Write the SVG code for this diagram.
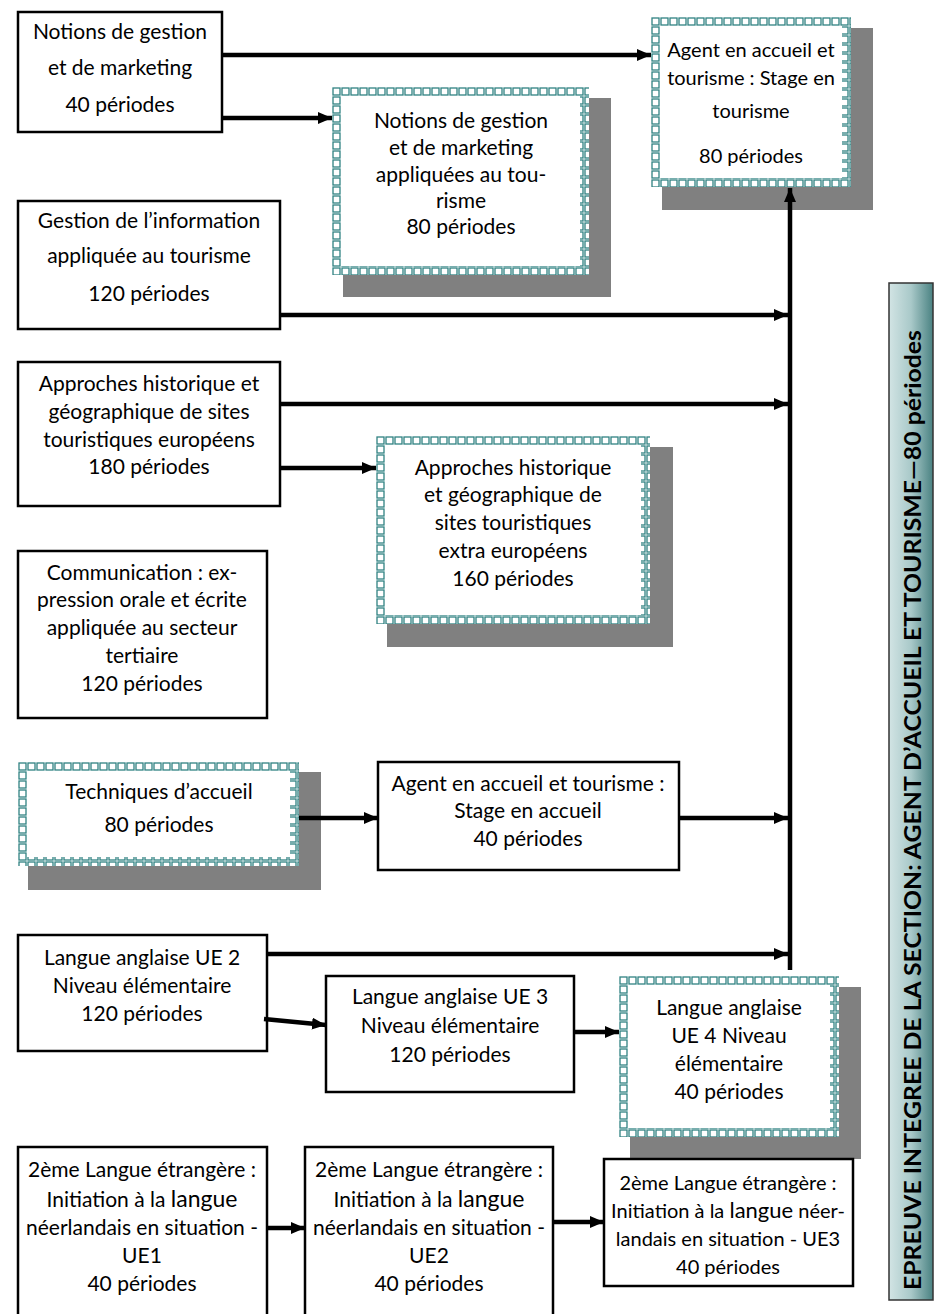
<svg xmlns="http://www.w3.org/2000/svg" width="937" height="1314" viewBox="0 0 937 1314">
<style>
.box{fill:#fff;stroke:#000;stroke-width:2.5}
.shadow{fill:#808080}
.inner{fill:#fff}
.frame{fill:none;stroke-width:9}
.t{font-family:Lato,"Noto Sans","DejaVu Sans",sans-serif;font-size:21px;text-anchor:middle;fill:#000}
.sm{font-size:20px}
.big{font-size:23px}
.conn{stroke:#000;stroke-width:4.5;fill:none}
.bar{font-family:Lato,"Noto Sans","DejaVu Sans",sans-serif;font-size:22px;font-weight:bold;text-anchor:middle;fill:#000}
</style>
<defs>
<marker id="ah" viewBox="0 0 14 12" refX="14" refY="6" markerWidth="14" markerHeight="12" markerUnits="userSpaceOnUse" orient="auto">
<path d="M0,0 L14,6 L0,12 z" fill="#000"/>
</marker>
<pattern id="sq" width="9" height="9" patternUnits="userSpaceOnUse">
<rect x="1" y="1" width="7" height="7" fill="#fff" stroke="#2f8282" stroke-width="1.3"/>
</pattern>
<pattern id="sqN2" href="#sq" x="332" y="87"/>
<pattern id="sqAG" href="#sq" x="651" y="17"/>
<pattern id="sqAX" href="#sq" x="376" y="436"/>
<pattern id="sqTA" href="#sq" x="18" y="762"/>
<pattern id="sqU4" href="#sq" x="619" y="976"/>
<linearGradient id="barg" x1="0" y1="0" x2="1" y2="0">
<stop offset="0" stop-color="#d2e4e4"/>
<stop offset="0.5" stop-color="#a9c9c9"/>
<stop offset="1" stop-color="#4a8282"/>
</linearGradient>
</defs>

<g id="gestion-marketing">
<rect class="box" x="18" y="12" width="204" height="120"/>
<text class="t" x="120" y="39">Notions de gestion</text>
<text class="t" x="120" y="75">et de marketing</text>
<text class="t" x="120" y="112">40 périodes</text>
</g>

<g id="gestion-marketing-tourisme">
<rect class="shadow" x="343" y="98" width="268" height="199"/>
<rect class="inner" x="332" y="87" width="257" height="188"/>
<rect class="frame" x="336.5" y="91.5" width="248" height="179" stroke="url(#sqN2)"/>
<text class="t" x="461" y="128">Notions de gestion</text>
<text class="t" x="461" y="155">et de marketing</text>
<text class="t" x="461" y="182">appliquées au tou-</text>
<text class="t" x="461" y="208">risme</text>
<text class="t" x="461" y="234">80 périodes</text>
</g>

<g id="stage-tourisme">
<rect class="shadow" x="662" y="28" width="211" height="182"/>
<rect class="inner" x="651" y="17" width="200" height="170"/>
<rect class="frame" x="655.5" y="21.5" width="191" height="161" stroke="url(#sqAG)"/>
<text class="t sm" x="751" y="57">Agent en accueil et</text>
<text class="t sm" x="751" y="85">tourisme : Stage en</text>
<text class="t sm" x="751" y="118">tourisme</text>
<text class="t sm" x="751" y="163">80 périodes</text>
</g>

<g id="gestion-information">
<rect class="box" x="18" y="201" width="262" height="128"/>
<text class="t" x="149" y="228">Gestion de l’information</text>
<text class="t" x="149" y="263">appliquée au tourisme</text>
<text class="t" x="149" y="301">120 périodes</text>
</g>

<g id="approches-europeens">
<rect class="box" x="18" y="362" width="262" height="144"/>
<text class="t" x="149" y="391">Approches historique et</text>
<text class="t" x="149" y="419">géographique de sites</text>
<text class="t" x="149" y="447">touristiques européens</text>
<text class="t" x="149" y="474">180 périodes</text>
</g>

<g id="approches-extra">
<rect class="shadow" x="387" y="447" width="286" height="200"/>
<rect class="inner" x="376" y="436" width="274" height="188"/>
<rect class="frame" x="380.5" y="440.5" width="265" height="179" stroke="url(#sqAX)"/>
<text class="t" x="513" y="475">Approches historique</text>
<text class="t" x="513" y="502">et géographique de</text>
<text class="t" x="513" y="530">sites touristiques</text>
<text class="t" x="513" y="558">extra européens</text>
<text class="t" x="513" y="586">160 périodes</text>
</g>

<g id="communication">
<rect class="box" x="18" y="551" width="249" height="167"/>
<text class="t" x="142" y="580">Communication : ex-</text>
<text class="t" x="142" y="607">pression orale et écrite</text>
<text class="t" x="142" y="635">appliquée au secteur</text>
<text class="t" x="142" y="663">tertiaire</text>
<text class="t" x="142" y="691">120 périodes</text>
</g>

<g id="techniques-accueil">
<rect class="shadow" x="28" y="772" width="293" height="118"/>
<rect class="inner" x="18" y="762" width="281" height="104"/>
<rect class="frame" x="22.5" y="766.5" width="272" height="95" stroke="url(#sqTA)"/>
<text class="t" x="159" y="799">Techniques d’accueil</text>
<text class="t" x="159" y="832">80 périodes</text>
</g>

<g id="stage-accueil">
<rect class="box" x="378" y="762" width="301" height="108"/>
<text class="t" x="528" y="791">Agent en accueil et tourisme :</text>
<text class="t" x="528" y="818">Stage en accueil</text>
<text class="t" x="528" y="846">40 périodes</text>
</g>

<g id="anglais-ue2">
<rect class="box" x="18" y="935" width="249" height="116"/>
<text class="t" x="142" y="965">Langue anglaise UE 2</text>
<text class="t" x="142" y="993">Niveau élémentaire</text>
<text class="t" x="142" y="1021">120 périodes</text>
</g>

<g id="anglais-ue3">
<rect class="box" x="326" y="976" width="248" height="116"/>
<text class="t" x="450" y="1004">Langue anglaise UE 3</text>
<text class="t" x="450" y="1033">Niveau élémentaire</text>
<text class="t" x="450" y="1062">120 périodes</text>
</g>

<g id="anglais-ue4">
<rect class="shadow" x="630" y="987" width="231" height="172"/>
<rect class="inner" x="619" y="976" width="220" height="161"/>
<rect class="frame" x="623.5" y="980.5" width="211" height="152" stroke="url(#sqU4)"/>
<text class="t" x="729" y="1015">Langue anglaise</text>
<text class="t" x="729" y="1043">UE 4 Niveau</text>
<text class="t" x="729" y="1071">élémentaire</text>
<text class="t" x="729" y="1099">40 périodes</text>
</g>

<g id="neerlandais-ue1">
<rect class="box" x="18" y="1147" width="249" height="172"/>
<text class="t" x="142" y="1177">2ème Langue étrangère :</text>
<text class="t" x="142" y="1207">Initiation à la <tspan class="big">langue</tspan></text>
<text class="t" x="142" y="1235">néerlandais en situation -</text>
<text class="t" x="142" y="1263">UE1</text>
<text class="t" x="142" y="1291">40 périodes</text>
</g>

<g id="neerlandais-ue2">
<rect class="box" x="305" y="1147" width="248" height="172"/>
<text class="t" x="429" y="1177">2ème Langue étrangère :</text>
<text class="t" x="429" y="1207">Initiation à la <tspan class="big">langue</tspan></text>
<text class="t" x="429" y="1235">néerlandais en situation -</text>
<text class="t" x="429" y="1263">UE2</text>
<text class="t" x="429" y="1291">40 périodes</text>
</g>

<g id="neerlandais-ue3">
<rect class="box" x="604" y="1159" width="249" height="127"/>
<text class="t sm" x="728" y="1190">2ème Langue étrangère :</text>
<text class="t sm" x="728" y="1218">Initiation à la <tspan font-size="22px">langue</tspan> néer-</text>
<text class="t sm" x="728" y="1246">landais en situation - UE3</text>
<text class="t sm" x="728" y="1274">40 périodes</text>
</g>

<g id="epreuve-integree">
<rect x="889" y="283" width="44" height="1017" fill="url(#barg)" stroke="#333" stroke-width="1.5"/>
<text class="bar" transform="translate(921,810) rotate(-90)" x="0" y="0" textLength="960" lengthAdjust="spacingAndGlyphs">EPREUVE INTEGREE DE LA SECTION: AGENT D’ACCUEIL ET TOURISME—80 périodes</text>
</g>

<g id="connectors">
<line class="conn" x1="222" y1="55" x2="651" y2="55" marker-end="url(#ah)"/>
<line class="conn" x1="222" y1="118" x2="332" y2="118" marker-end="url(#ah)"/>
<line class="conn" x1="280" y1="315" x2="788" y2="315" marker-end="url(#ah)"/>
<line class="conn" x1="280" y1="404" x2="788" y2="404" marker-end="url(#ah)"/>
<line class="conn" x1="280" y1="468" x2="376" y2="468" marker-end="url(#ah)"/>
<line class="conn" x1="299" y1="818" x2="378" y2="818" marker-end="url(#ah)"/>
<line class="conn" x1="679" y1="818" x2="788" y2="818" marker-end="url(#ah)"/>
<line class="conn" x1="267" y1="954" x2="788" y2="954" marker-end="url(#ah)"/>
<line class="conn" x1="264" y1="1019" x2="326" y2="1025" marker-end="url(#ah)"/>
<line class="conn" x1="574" y1="1032" x2="619" y2="1032" marker-end="url(#ah)"/>
<line class="conn" x1="267" y1="1228" x2="305" y2="1228" marker-end="url(#ah)"/>
<line class="conn" x1="553" y1="1222" x2="604" y2="1222" marker-end="url(#ah)"/>
<line class="conn" x1="790" y1="970" x2="790" y2="188" stroke-width="4" marker-end="url(#ah)"/>
</g>
</svg>
